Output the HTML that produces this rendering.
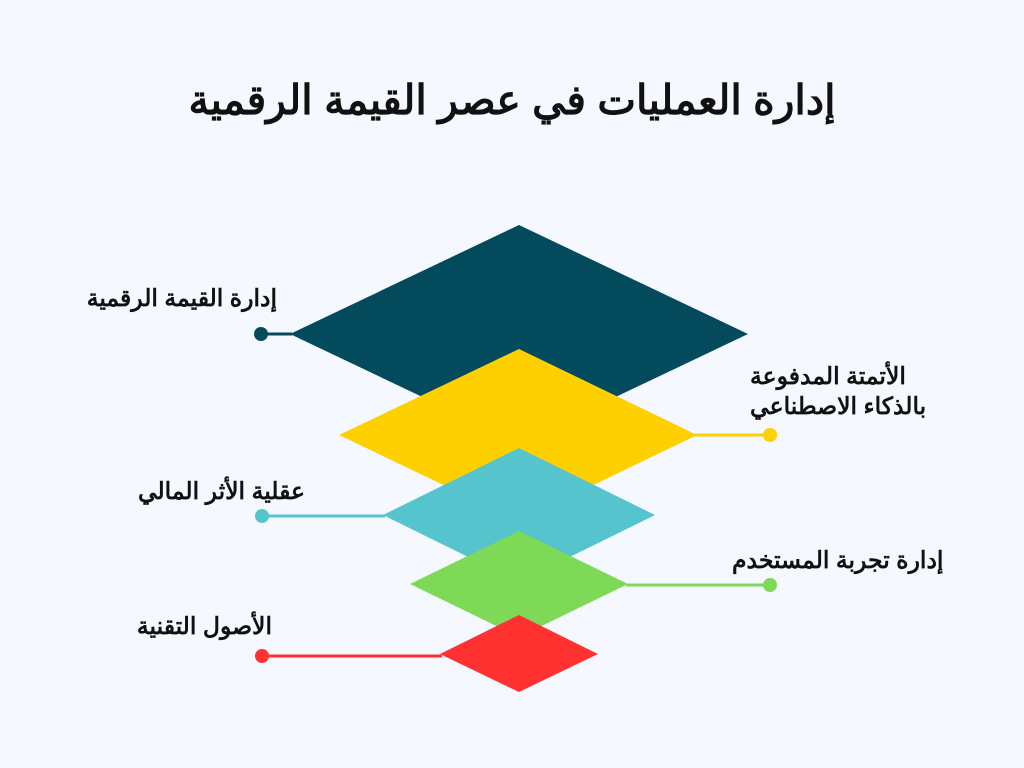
<!DOCTYPE html>
<html><head><meta charset="utf-8"><style>
body{margin:0;width:1024px;height:768px;background:#f5f8fe;overflow:hidden;position:relative;font-family:"Liberation Sans","Noto Sans CJK SC",sans-serif}
.t{position:absolute;font-weight:bold;color:#111;direction:rtl;white-space:nowrap;font-size:23.5px}
</style></head><body>
<svg width="1024" height="768" style="position:absolute;left:0;top:0">
<polygon points="519,225 748,334 519,443 290,334" fill="#034a5c"/>
<line x1="261" y1="334" x2="292" y2="334" stroke="#034a5c" stroke-width="3"/>
<circle cx="261" cy="334" r="7" fill="#034a5c"/>
<polygon points="519,349 697,435 519,521 339,435" fill="#ffd000"/>
<line x1="695" y1="435" x2="770" y2="435" stroke="#ffd000" stroke-width="3"/>
<circle cx="770" cy="435" r="7" fill="#ffd000"/>
<polygon points="519,448 655,515 519,582 383,515" fill="#55c4cc"/>
<line x1="262" y1="516" x2="385" y2="516" stroke="#55c4cc" stroke-width="3"/>
<circle cx="262" cy="516" r="7" fill="#55c4cc"/>
<polygon points="519,531 628,584 519,637 410,584" fill="#7ed957"/>
<line x1="626" y1="585" x2="770" y2="585" stroke="#7ed957" stroke-width="3"/>
<circle cx="770" cy="585" r="7" fill="#7ed957"/>
<polygon points="519,615 598,654 519,692 440,654" fill="#ff3131"/>
<line x1="262" y1="656" x2="442" y2="656" stroke="#ff3131" stroke-width="3"/>
<circle cx="262" cy="656" r="7" fill="#ff3131"/>
</svg>
<div class="t" style="left:0;width:1024px;top:76px;text-align:center;font-size:41px">إدارة العمليات في عصر القيمة الرقمية</div>
<div class="t" style="right:747px;top:284px">إدارة القيمة الرقمية</div>
<div class="t" style="left:750px;top:361px;line-height:30px;text-align:left">الأتمتة المدفوعة<br>بالذكاء الاصطناعي</div>
<div class="t" style="right:719px;top:477px">عقلية الأثر المالي</div>
<div class="t" style="left:732px;top:546px">إدارة تجربة المستخدم</div>
<div class="t" style="right:752px;top:612px">الأصول التقنية</div>
</body></html>
